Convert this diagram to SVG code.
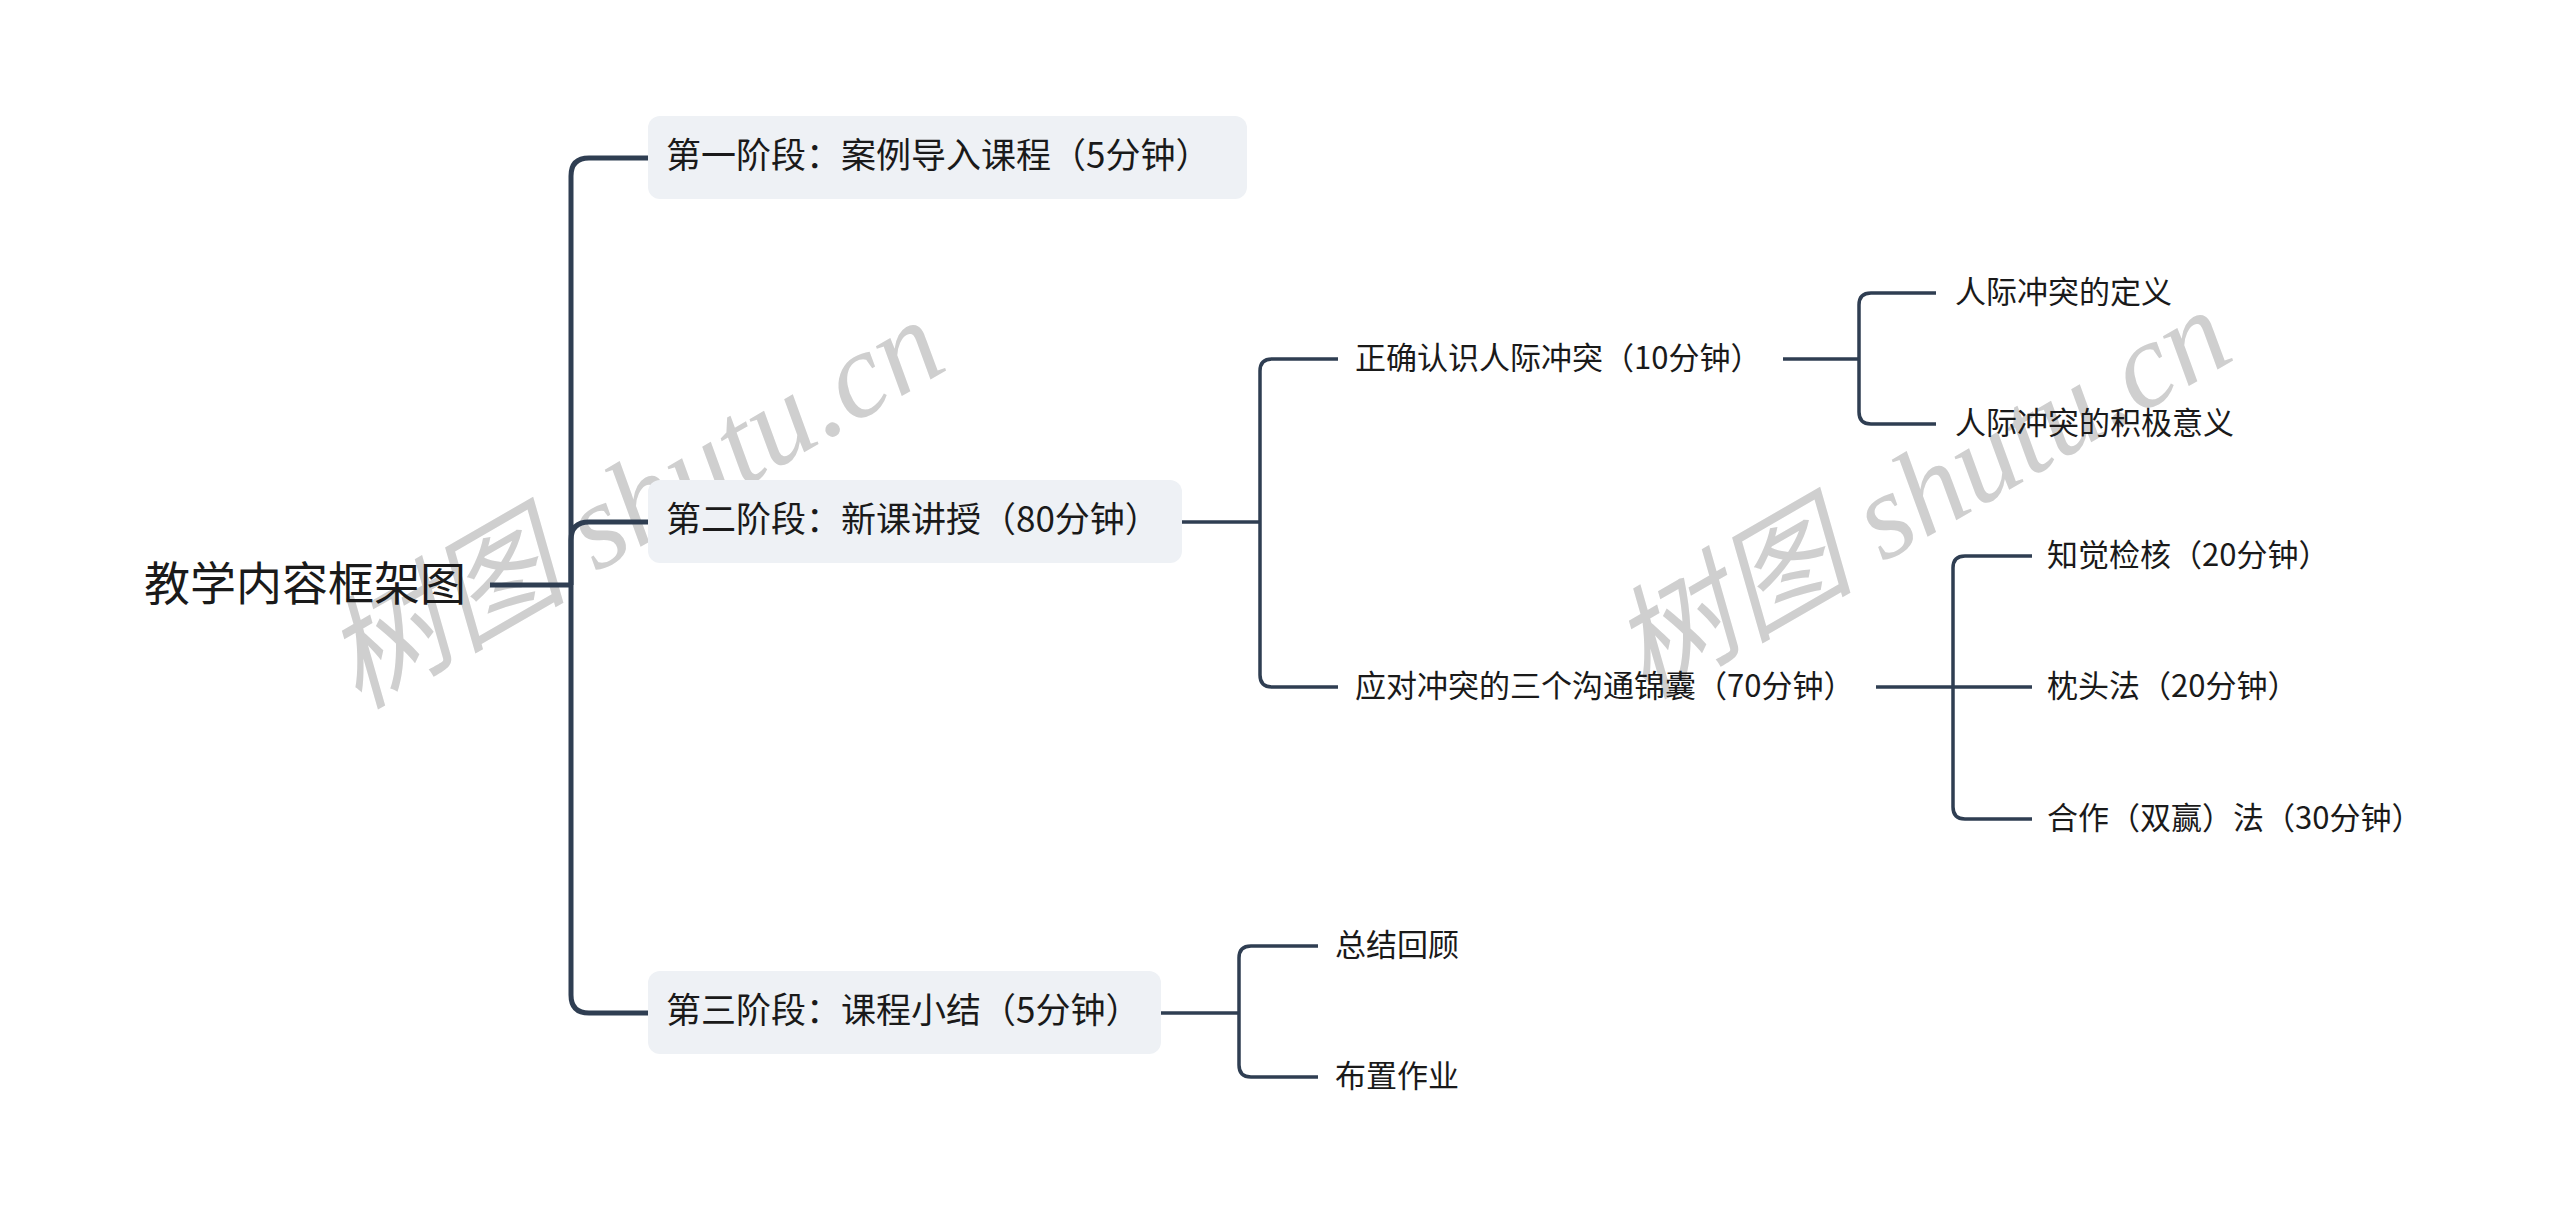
<svg xmlns="http://www.w3.org/2000/svg" width="2560" height="1230" viewBox="0 0 2560 1230">
<style>
text{font-family:"Noto Sans CJK SC","Noto Sans",sans-serif;fill:#1a1a1a;dominant-baseline:central}
.root{font-size:46px}
.l1{font-size:35px}
.l2{font-size:31px}
.box{fill:#eef1f5}
.c1{fill:none;stroke:#2f3e52;stroke-width:5;stroke-linecap:butt}
.c2{fill:none;stroke:#2f3e52;stroke-width:3.5;stroke-linecap:butt}
.wm{font-family:"Liberation Serif","Noto Sans CJK SC",serif;font-style:italic;fill:#cfcfcf;font-size:122px;dominant-baseline:alphabetic}
</style>
<rect width="2560" height="1230" fill="#ffffff"/>
<g id="watermarks">
<text class="wm" transform="translate(358 710) rotate(-30)">树图 shutu.cn</text>
<text class="wm" transform="translate(1645 700) rotate(-30)">树图 shutu.cn</text>
</g>
<g id="connectors">
<path class="c1" d="M490 585 H571"/>
<path class="c1" d="M571 585 V176 Q571 158 589 158 H648"/>
<path class="c1" d="M571 585 V540 Q571 522 589 522 H648"/>
<path class="c1" d="M571 585 V995 Q571 1013 589 1013 H648"/>
<path class="c2" d="M1182 522 H1260"/>
<path class="c2" d="M1260 522 V371 Q1260 359 1272 359 H1338"/>
<path class="c2" d="M1260 522 V675 Q1260 687 1272 687 H1338"/>
<path class="c2" d="M1783 359 H1859"/>
<path class="c2" d="M1859 359 V305 Q1859 293 1871 293 H1936"/>
<path class="c2" d="M1859 359 V412 Q1859 424 1871 424 H1936"/>
<path class="c2" d="M1876 687 H1953"/>
<path class="c2" d="M1953 687 V568 Q1953 556 1965 556 H2032"/>
<path class="c2" d="M1953 687 H2032"/>
<path class="c2" d="M1953 687 V807 Q1953 819 1965 819 H2032"/>
<path class="c2" d="M1161 1013 H1239"/>
<path class="c2" d="M1239 1013 V958 Q1239 946 1251 946 H1318"/>
<path class="c2" d="M1239 1013 V1065 Q1239 1077 1251 1077 H1318"/>
</g>
<g id="root"><text class="root" x="144" y="580">教学内容框架图</text></g>
<g id="n1"><rect class="box" x="648" y="116" width="599" height="83" rx="12"/><text class="l1" x="666" y="152">第一阶段：案例导入课程（5分钟）</text></g>
<g id="n2"><rect class="box" x="648" y="480" width="534" height="83" rx="12"/><text class="l1" x="666" y="516">第二阶段：新课讲授（80分钟）</text></g>
<g id="n3"><rect class="box" x="648" y="971" width="513" height="83" rx="12"/><text class="l1" x="666" y="1007">第三阶段：课程小结（5分钟）</text></g>
<g id="n21"><text class="l2" x="1355" y="355">正确认识人际冲突（10分钟）</text></g>
<g id="n22"><text class="l2" x="1355" y="683">应对冲突的三个沟通锦囊（70分钟）</text></g>
<g id="n211"><text class="l2" x="1955" y="289">人际冲突的定义</text></g>
<g id="n212"><text class="l2" x="1955" y="420">人际冲突的积极意义</text></g>
<g id="n221"><text class="l2" x="2047" y="552">知觉检核（20分钟）</text></g>
<g id="n222"><text class="l2" x="2047" y="683">枕头法（20分钟）</text></g>
<g id="n223"><text class="l2" x="2047" y="815">合作（双赢）法（30分钟）</text></g>
<g id="n31"><text class="l2" x="1335" y="942">总结回顾</text></g>
<g id="n32"><text class="l2" x="1335" y="1073">布置作业</text></g>
</svg>
